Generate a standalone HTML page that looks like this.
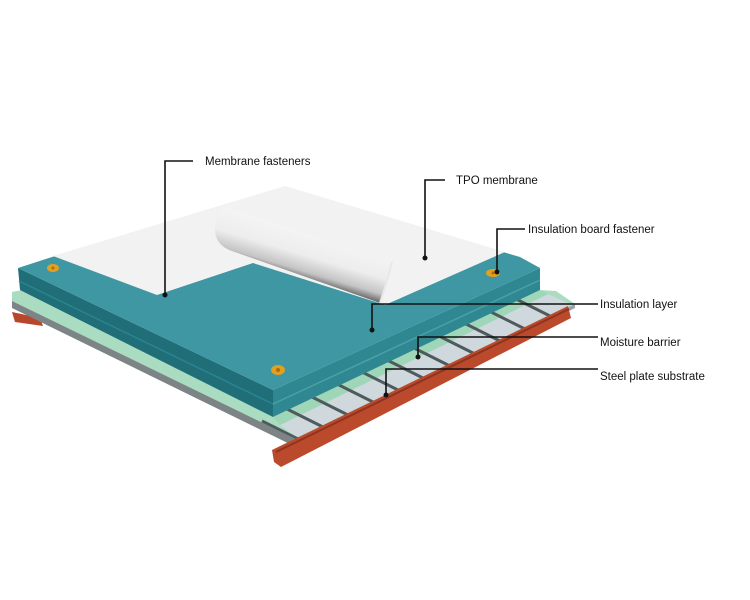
<!DOCTYPE html>
<html><head><style>
html,body{margin:0;padding:0;background:#fff;}
svg{display:block}
text{font-family:"Liberation Sans",sans-serif;font-size:11.5px;fill:#111}
</style></head><body>
<svg width="750" height="600" viewBox="0 0 750 600" xmlns="http://www.w3.org/2000/svg">
<defs>
<linearGradient id="roll" gradientUnits="userSpaceOnUse" x1="306" y1="226" x2="290" y2="280">
<stop offset="0" stop-color="#f6f6f6"/><stop offset="0.5" stop-color="#ededed"/><stop offset="0.78" stop-color="#c4c4c4"/><stop offset="0.93" stop-color="#6a6a6a"/><stop offset="1" stop-color="#222"/>
</linearGradient>
</defs>
<polygon points="12,312 40,318 43,326 15,322" fill="#b8462a"/>
<polygon points="12,292 22,290 273,417 540,290 556,291 575,304 300,441 12,301" fill="#a9dcc0"/>
<polygon points="280,425 548,294 572,305 300,440" fill="#cfd8dc"/>
<polygon points="273,417 540,290 548,294 280,425" fill="#9fd6b8"/>
<g stroke="#4f5a5e" stroke-width="3">
<line x1="300" y1="440" x2="262" y2="421"/>
<line x1="325" y1="428" x2="287" y2="409"/>
<line x1="350" y1="416" x2="312" y2="397"/>
<line x1="375" y1="403" x2="337" y2="384"/>
<line x1="400" y1="391" x2="362" y2="372"/>
<line x1="425" y1="379" x2="387" y2="360"/>
<line x1="450" y1="366" x2="412" y2="347"/>
<line x1="475" y1="354" x2="437" y2="335"/>
<line x1="500" y1="341" x2="462" y2="322"/>
<line x1="525" y1="329" x2="487" y2="310"/>
<line x1="550" y1="316" x2="512" y2="297"/>
</g>
<polygon points="12,301 300,441 300,449 12,308" fill="#7c8485"/>
<polygon points="300,441 575,304 575,308 300,449" fill="#9aa3a6"/>
<polygon points="272,450 568,306 571,318 281,467 274,462" fill="#bb4a2c"/>
<line x1="276" y1="452" x2="569" y2="309" stroke="#8e3420" stroke-width="2"/>
<polygon points="18,268 273,390 273,417 20,290" fill="#1f6e78"/>
<line x1="19" y1="281" x2="273" y2="404" stroke="#2a8590" stroke-width="1.5"/>
<polygon points="273,390 540,268 540,290 273,417" fill="#2f8891"/>
<line x1="273" y1="404" x2="540" y2="280" stroke="#4aa0a8" stroke-width="1.5"/>
<polygon points="18,268 52,257 290,190 520,257 540,268 273,390" fill="#3f97a3"/>
<polygon points="53,256 285,186 505,252 385,305 253,263 157,295" fill="#f2f2f2"/>
<path d="M224,207 L392,262 L380,303 L232,251 Q214,245 215,227 Q216,212 224,207 Z" fill="url(#roll)"/>
<path d="M392,262 Q386,285 380,303" stroke="#e8e8e8" stroke-width="2" fill="none"/>
<g fill="#e0a020"><ellipse cx="53" cy="268" rx="6" ry="4"/><ellipse cx="278" cy="370" rx="7" ry="5"/><ellipse cx="493" cy="273" rx="7" ry="4"/></g>
<g fill="#b06a10"><circle cx="53" cy="268" r="1.5"/><circle cx="278" cy="370" r="2"/><circle cx="493" cy="273" r="1.5"/></g>
<g stroke="#111" stroke-width="1.6" fill="none">
<polyline points="193,161 165,161 165,295"/>
<polyline points="445,180 425,180 425,258"/>
<polyline points="525,229 497,229 497,272"/>
<polyline points="598,304 372,304 372,330"/>
<polyline points="598,337 418,337 418,357"/>
<polyline points="598,369 386,369 386,395"/>
</g>
<g fill="#111"><circle cx="165" cy="295" r="2.5"/><circle cx="425" cy="258" r="2.5"/><circle cx="497" cy="272" r="2.5"/><circle cx="372" cy="330" r="2.5"/><circle cx="418" cy="357" r="2.5"/><circle cx="386" cy="395" r="2.5"/></g>
<text x="205" y="165">Membrane fasteners</text>
<text x="456" y="184">TPO membrane</text>
<text x="528" y="233">Insulation board fastener</text>
<text x="600" y="308">Insulation layer</text>
<text x="600" y="346">Moisture barrier</text>
<text x="600" y="380">Steel plate substrate</text>
</svg>
</body></html>
